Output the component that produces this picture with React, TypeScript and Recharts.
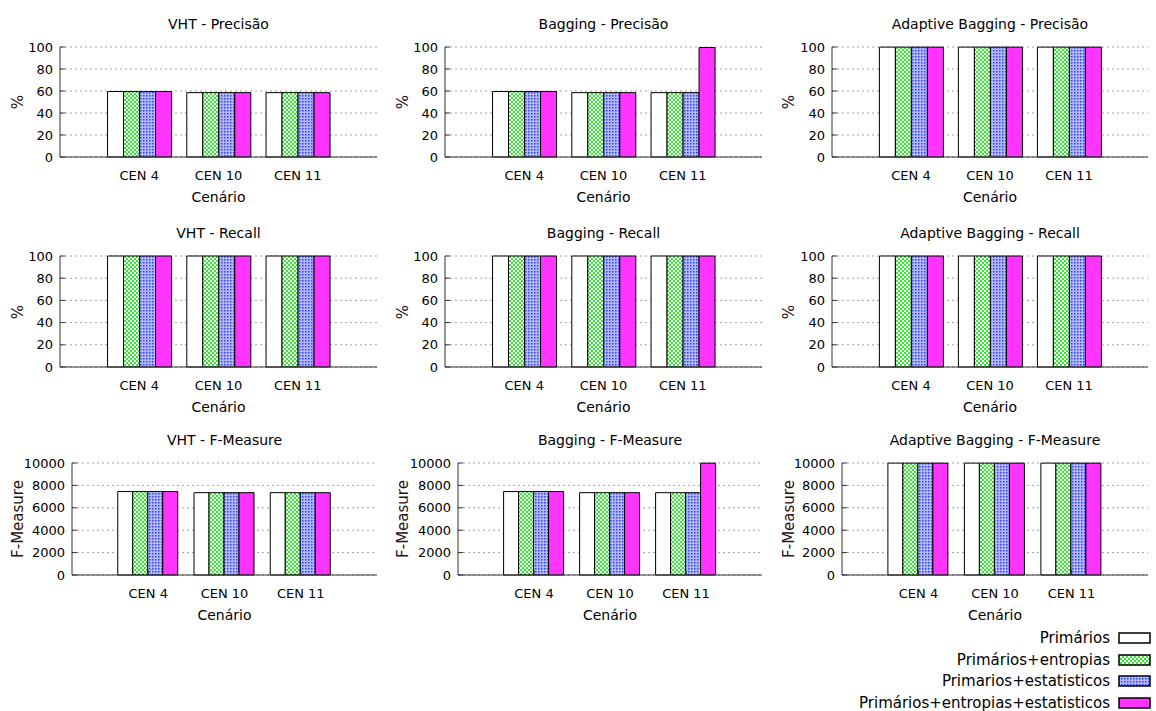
import React from 'react';
import { BarChart, Bar, XAxis, YAxis, CartesianGrid } from 'recharts';

const categories = ['CEN 4', 'CEN 10', 'CEN 11'];
const seriesNames = [
  'Primários',
  'Primários+entropias',
  'Primarios+estatisticos',
  'Primários+entropias+estatisticos',
];

const pctTicks = [0, 20, 40, 60, 80, 100];
const fmTicks = [0, 2000, 4000, 6000, 8000, 10000];

// one row per series, one value per category
const vhtPrecisao = [
  [59.5, 58.5, 58.5],
  [59.5, 58.5, 58.5],
  [59.5, 58.5, 58.5],
  [59.5, 58.5, 58.5],
];
const baggingPrecisao = [
  [59.5, 58.5, 58.5],
  [59.5, 58.5, 58.5],
  [59.5, 58.5, 58.5],
  [59.5, 58.5, 99.5],
];
const adaptivePrecisao = [
  [99.9, 99.9, 99.9],
  [99.9, 99.9, 99.9],
  [99.9, 99.9, 99.9],
  [99.9, 99.9, 99.9],
];
const vhtRecall = [
  [100, 100, 100],
  [100, 100, 100],
  [100, 100, 100],
  [100, 100, 100],
];
const baggingRecall = [
  [100, 100, 100],
  [100, 100, 100],
  [100, 100, 100],
  [100, 100, 100],
];
const adaptiveRecall = [
  [100, 100, 100],
  [100, 100, 100],
  [100, 100, 100],
  [100, 100, 100],
];
const vhtFMeasure = [
  [7450, 7350, 7350],
  [7450, 7350, 7350],
  [7450, 7350, 7350],
  [7450, 7350, 7350],
];
const baggingFMeasure = [
  [7450, 7350, 7350],
  [7450, 7350, 7350],
  [7450, 7350, 7350],
  [7450, 7350, 9990],
];
const adaptiveFMeasure = [
  [9990, 9990, 9990],
  [9990, 9990, 9990],
  [9990, 9990, 9990],
  [9990, 9990, 9990],
];

const panels = [
  { title: 'VHT - Precisão', yLabel: '%', values: vhtPrecisao, ticks: pctTicks },
  { title: 'Bagging - Precisão', yLabel: '%', values: baggingPrecisao, ticks: pctTicks },
  { title: 'Adaptive Bagging - Precisão', yLabel: '%', values: adaptivePrecisao, ticks: pctTicks },
  { title: 'VHT - Recall', yLabel: '%', values: vhtRecall, ticks: pctTicks },
  { title: 'Bagging - Recall', yLabel: '%', values: baggingRecall, ticks: pctTicks },
  { title: 'Adaptive Bagging - Recall', yLabel: '%', values: adaptiveRecall, ticks: pctTicks },
  { title: 'VHT - F-Measure', yLabel: 'F-Measure', values: vhtFMeasure, ticks: fmTicks },
  { title: 'Bagging - F-Measure', yLabel: 'F-Measure', values: baggingFMeasure, ticks: fmTicks },
  { title: 'Adaptive Bagging - F-Measure', yLabel: 'F-Measure', values: adaptiveFMeasure, ticks: fmTicks },
];

// plot boxes (page pixels)
const rowBox = [
  { top: 47, bottom: 157 },
  { top: 256, bottom: 367 },
  { top: 463, bottom: 575 },
];
const colBox = [
  [[60, 377], [445, 762], [832, 1148]],
  [[60, 377], [445, 762], [832, 1148]],
  [[72, 377], [458, 762], [842, 1148]],
];
const yTitleX = [18, 403, 789];

const FONT = '"DejaVu Sans", Verdana, sans-serif';
const BORDER = '#333';

function Patterns({ id }: { id: string }) {
  return (
    <defs>
      <pattern id={`green-${id}`} width={4} height={4} patternUnits="userSpaceOnUse">
        <rect width={4} height={4} fill="#2fec2f" />
        <rect x={0} y={0} width={2} height={2} fill="#ffffff" />
        <rect x={2} y={2} width={2} height={2} fill="#ffffff" />
      </pattern>
      <pattern id={`blue-${id}`} width={3} height={3} patternUnits="userSpaceOnUse">
        <rect width={3} height={3} fill="#b4b8ff" />
        <rect x={0} y={0} width={1.5} height={1.5} fill="#3040ff" />
      </pattern>
    </defs>
  );
}

const fillsFor = (id: string) => ['#ffffff', `url(#green-${id})`, `url(#blue-${id})`, '#ff35ff'];

function Panel({ index }: { index: number }) {
  const cfg = panels[index];
  const row = Math.floor(index / 3);
  const col = index % 3;
  const { top, bottom } = rowBox[row];
  const [pl, pr] = colBox[row][col];
  const plotW = pr - pl;
  const plotH = bottom - top;
  const YW = 70;
  const XH = 40;
  const MT = 12;
  const MR = 4;
  const pad = plotW / 8;
  const id = `p${index}`;
  const fills = fillsFor(id);
  const max = cfg.ticks[cfg.ticks.length - 1];

  const data = categories.map((name, i) => {
    const rec: Record<string, string | number> = { name };
    cfg.values.forEach((s, k) => {
      rec[`s${k}`] = s[i];
    });
    return rec;
  });

  const bottomTick = (p: any) => (
    <g>
      <line x1={p.x} x2={p.x} y1={p.y} y2={p.y - 5} stroke={BORDER} />
      <text x={p.x} y={p.y + 18} dy="0.35em" textAnchor="middle" fontSize={13} fill="#000" fontFamily={FONT}>
        {p.payload.value}
      </text>
    </g>
  );
  const topTick = (p: any) => (
    <line x1={p.x} x2={p.x} y1={p.y} y2={p.y + 5} stroke={BORDER} />
  );
  const leftTick = (p: any) => (
    <g>
      <line x1={p.x} x2={p.x + 5} y1={p.y} y2={p.y} stroke={BORDER} />
      <text x={p.x - 7} y={p.y} dy="0.35em" textAnchor="end" fontSize={13} fill="#000" fontFamily={FONT}>
        {p.payload.value}
      </text>
    </g>
  );
  const rightTick = (p: any) => (
    <line x1={p.x} x2={p.x - 5} y1={p.y} y2={p.y} stroke={BORDER} />
  );

  return (
    <>
      <div
        style={{
          position: 'absolute',
          left: pl,
          width: plotW,
          top: top - 31,
          textAlign: 'center',
          fontSize: 14,
          fontFamily: FONT,
          lineHeight: '16px',
        }}
      >
        {cfg.title}
      </div>
      <div
        style={{
          position: 'absolute',
          left: yTitleX[col] - 100,
          width: 200,
          top: (top + bottom) / 2 - 8,
          textAlign: 'center',
          fontSize: 15,
          fontFamily: FONT,
          lineHeight: '16px',
          color: '#2a1010',
          transform: 'rotate(-90deg)',
        }}
      >
        {cfg.yLabel}
      </div>
      <div
        style={{
          position: 'absolute',
          left: pl,
          width: plotW,
          top: bottom + 32,
          textAlign: 'center',
          fontSize: 14,
          fontFamily: FONT,
          lineHeight: '16px',
        }}
      >
        Cenário
      </div>
      <div style={{ position: 'absolute', left: pl - YW, top: top - MT }}>
        <BarChart
          width={plotW + YW + MR}
          height={plotH + MT + XH}
          data={data}
          margin={{ top: MT, right: MR, left: 0, bottom: 0 }}
          barCategoryGap="10%"
          barGap={0}
        >
          <Patterns id={id} />
          <CartesianGrid vertical={false} stroke="#a0a0a0" strokeDasharray="2 3" />
          <XAxis
            dataKey="name"
            height={XH}
            padding={{ left: pad, right: pad }}
            interval={0}
            tickSize={0}
            tickMargin={0}
            tickLine={false}
            axisLine={{ stroke: BORDER }}
            tick={bottomTick}
          />
          <XAxis
            xAxisId="top"
            orientation="top"
            dataKey="name"
            height={0}
            padding={{ left: pad, right: pad }}
            interval={0}
            tickSize={0}
            tickMargin={0}
            tickLine={false}
            axisLine={{ stroke: BORDER }}
            tick={topTick}
          />
          <YAxis
            width={YW}
            domain={[0, max]}
            ticks={cfg.ticks}
            interval={0}
            tickSize={0}
            tickMargin={0}
            tickLine={false}
            axisLine={{ stroke: BORDER }}
            tick={leftTick}
          />
          <YAxis
            yAxisId="right"
            orientation="right"
            width={0}
            domain={[0, max]}
            ticks={cfg.ticks}
            interval={0}
            tickSize={0}
            tickMargin={0}
            tickLine={false}
            axisLine={{ stroke: BORDER }}
            tick={rightTick}
          />
          {seriesNames.map((name, k) => (
            <Bar
              key={name}
              name={name}
              dataKey={`s${k}`}
              fill={fills[k]}
              stroke="#000"
              strokeWidth={1}
              isAnimationActive={false}
            />
          ))}
        </BarChart>
      </div>
    </>
  );
}

function LegendBox() {
  const fills = fillsFor('legend');
  return (
    <div style={{ position: 'absolute', right: 5, top: 627, fontFamily: FONT }}>
      <svg width={0} height={0} style={{ position: 'absolute' }}>
        <Patterns id="legend" />
      </svg>
      {seriesNames.map((name, k) => (
        <div
          key={name}
          style={{ display: 'flex', justifyContent: 'flex-end', alignItems: 'center', height: 21.7 }}
        >
          <span style={{ fontSize: 15, lineHeight: '18px', color: '#000', marginRight: 8 }}>{name}</span>
          <svg width={33} height={12}>
            <rect x={1} y={1} width={31} height={10} fill={fills[k]} stroke="#000" strokeWidth={1.5} />
          </svg>
        </div>
      ))}
    </div>
  );
}

export default function App() {
  return (
    <div
      style={{
        position: 'absolute',
        left: 0,
        top: 0,
        width: 1156,
        height: 711,
        background: '#fff',
        overflow: 'hidden',
      }}
    >
      {panels.map((_, i) => (
        <Panel key={i} index={i} />
      ))}
      <LegendBox />
    </div>
  );
}
